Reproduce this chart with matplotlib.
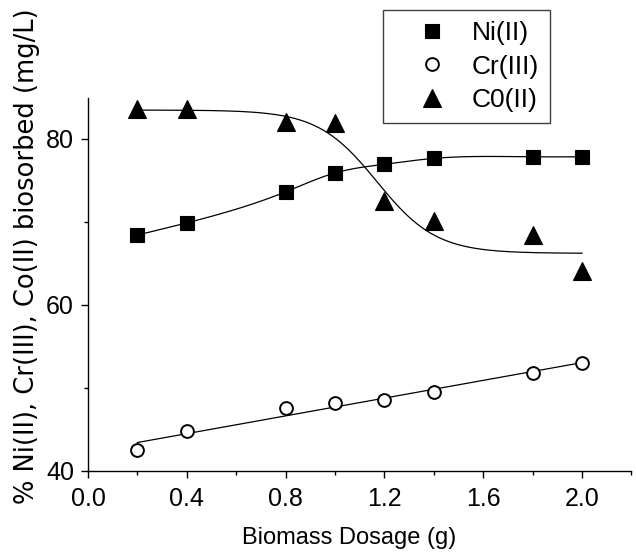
import numpy as np
import matplotlib
matplotlib.use("Agg")
import matplotlib.pyplot as plt
from matplotlib.lines import Line2D
from matplotlib.ticker import MultipleLocator

plt.rcParams["font.family"] = ["Liberation Sans", "DejaVu Sans"]

# biomass dosage (g) and metal biosorbed (mg/L)
dosage = [0.2, 0.4, 0.8, 1.0, 1.2, 1.4, 1.8, 2.0]
ni_values = [68.4, 69.87, 73.6, 75.88, 76.92, 77.63, 77.82, 77.82]
cr_values = [42.49, 44.77, 47.6, 48.2, 48.58, 49.5, 51.74, 53.02]
co_values = [83.54, 83.54, 82.04, 81.86, 72.55, 70.14, 68.38, 64.09]

series_labels = ["Ni(II)", "Cr(III)", "C0(II)"]

# Boltzmann curve drawn through the Co(II) points (parameters)
co_a1, co_a2, co_x0, co_dx = 83.45, 66.2, 1.17, 0.12


def natural_spline(x, y, xs):
    """Natural cubic spline through (x, y), evaluated at xs."""
    x = np.asarray(x, float)
    y = np.asarray(y, float)
    n = len(x)
    h = np.diff(x)
    A = np.zeros((n, n))
    b = np.zeros(n)
    A[0, 0] = A[-1, -1] = 1.0
    for i in range(1, n - 1):
        A[i, i - 1] = h[i - 1]
        A[i, i] = 2 * (h[i - 1] + h[i])
        A[i, i + 1] = h[i]
        b[i] = 3 * ((y[i + 1] - y[i]) / h[i] - (y[i] - y[i - 1]) / h[i - 1])
    c = np.linalg.solve(A, b)
    bb = (y[1:] - y[:-1]) / h - h * (2 * c[:-1] + c[1:]) / 3
    d = (c[1:] - c[:-1]) / (3 * h)
    idx = np.clip(np.searchsorted(x, xs) - 1, 0, n - 2)
    t = xs - x[idx]
    return y[idx] + bb[idx] * t + c[idx] * t ** 2 + d[idx] * t ** 3


def boltzmann(x, a1, a2, x0, dx):
    return a2 + (a1 - a2) / (1 + np.exp((x - x0) / dx))


fig = plt.figure(figsize=(6.36, 5.56), dpi=100)
ax = fig.add_axes([88 / 636, 1 - 471 / 556, (631.4 - 88) / 636, (471 - 98) / 556])

xs = np.linspace(min(dosage), max(dosage), 300)
line_kw = dict(color="black", lw=0.9, zorder=2)
ax.plot(xs, natural_spline(dosage, ni_values, xs), **line_kw)
slope, icpt = np.polyfit(dosage, cr_values, 1)
ax.plot(xs, slope * xs + icpt, **line_kw)
ax.plot(xs, boltzmann(xs, co_a1, co_a2, co_x0, co_dx), **line_kw)

ni_style = dict(marker="s", ms=10, mfc="black", mec="black", mew=0.8, ls="none")
cr_style = dict(marker="o", ms=9.2, mfc="white", mec="black", mew=1.4, ls="none")
co_style = dict(marker="^", ms=13.5, mfc="black", mec="black", mew=0.8, ls="none")
ax.plot(dosage, ni_values, zorder=3, **ni_style)
ax.plot(dosage, cr_values, zorder=3, **cr_style)
ax.plot(dosage, co_values, zorder=3, **co_style)

ax.set_xlim(0, 2.2)
ax.set_ylim(40, 84.9)
ax.xaxis.set_major_locator(MultipleLocator(0.4))
ax.xaxis.set_minor_locator(MultipleLocator(0.2))
ax.yaxis.set_major_locator(MultipleLocator(20))
ax.yaxis.set_minor_locator(MultipleLocator(10))
ax.xaxis.set_major_formatter(lambda v, p: f"{v:.1f}")
ax.tick_params(which="both", direction="out", width=1, labelsize=18, colors="black")
ax.tick_params(which="major", length=5)
ax.tick_params(which="minor", length=3)
ax.tick_params(axis="y", pad=5)
ax.tick_params(axis="x", pad=6.5)
for side in ("top", "right"):
    ax.spines[side].set_visible(False)
for side in ("left", "bottom"):
    ax.spines[side].set_linewidth(1.0)

fig.text(349 / 636, 1 - 538 / 556, "Biomass Dosage (g)", ha="center", va="center", fontsize=17)
fig.text(27 / 636, 1 - 256 / 556, "% Ni(II), Cr(III), Co(II) biosorbed (mg/L)",
         rotation=90, ha="center", va="center", fontsize=18.5,
         family=["DejaVu Sans"])

handles = [Line2D([], [], **ni_style), Line2D([], [], **cr_style), Line2D([], [], **co_style)]
leg = fig.legend(handles, series_labels, loc="upper left",
                 bbox_to_anchor=(383 / 636, 1 - 10 / 556), fontsize=19,
                 frameon=True, fancybox=False, framealpha=1, edgecolor="#404040",
                 borderpad=0.42, handlelength=2.9, handletextpad=0.05,
                 labelspacing=0.36, borderaxespad=0)
leg.get_frame().set_linewidth(1.0)

fig.savefig("out.png", dpi=100)
